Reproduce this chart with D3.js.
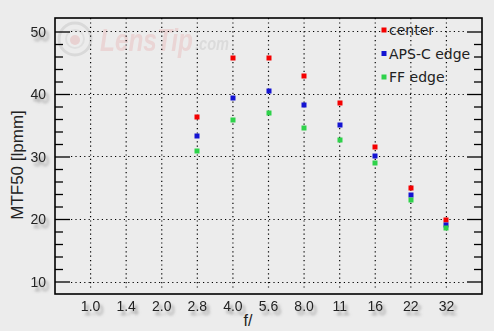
<!DOCTYPE html>
<html>
<head>
<meta charset="utf-8">
<script src="https://cdn.jsdelivr.net/npm/d3@7"></script>
<style>
  body { margin:0; background:#ececec; }
  svg { display:block; }
</style>
</head>
<body>
<svg id="chart" width="494" height="331"></svg>
<script>
// f-stops on the x axis
var apertures = ["1.0","1.4","2.0","2.8","4.0","5.6","8.0","11","16","22","32"];
var measured  = ["2.8","4.0","5.6","8.0","11","16","22","32"];
// MTF50 values
var center   = [36.4, 45.8, 45.8, 42.9, 38.6, 31.6, 25.0, 19.9];
var apscEdge = [33.3, 39.3, 40.4, 38.3, 35.0, 30.0, 23.8, 19.1];
var ffEdge   = [30.9, 35.8, 36.9, 34.6, 32.7, 28.9, 23.1, 18.6];
var yTicks = [10, 20, 30, 40, 50];
var series = [
  {name:"center", values:center, color:"#f40000"},
  {name:"APS-C edge", values:apscEdge, color:"#1414d2"},
  {name:"FF edge", values:ffEdge, color:"#2ed24a"}
];

var svg = d3.select("#chart");
var pLeft = 55, pRight = 482, pTop = 18, pBottom = 294;

var defs = svg.append("defs");
var f = defs.append("filter").attr("id","shadow").attr("x","-50%").attr("y","-50%").attr("width","200%").attr("height","200%");
f.append("feDropShadow").attr("dx",3).attr("dy",4).attr("stdDeviation",1.6)
  .attr("flood-color","#777").attr("flood-opacity",0.75);

var x = d3.scalePoint().domain(apertures).range([pLeft, pRight]).padding(1);
var y = d3.scaleLinear().domain([8, 52.16]).range([pBottom, pTop]);

// watermark
var wm = svg.append("g").attr("opacity",0.6);
wm.append("circle").attr("cx",75).attr("cy",39).attr("r",16)
  .attr("fill","none").attr("stroke","#cdcdcd").attr("stroke-width",3);
wm.append("circle").attr("cx",75).attr("cy",39).attr("r",9)
  .attr("fill","none").attr("stroke","#d8d8d8").attr("stroke-width",2);
wm.append("circle").attr("cx",75).attr("cy",40).attr("r",5).attr("fill","#e6c0c0");
wm.append("text").attr("x",100).attr("y",51).attr("font-family","Liberation Sans, Arial")
  .attr("font-size",32).attr("font-weight","bold").attr("font-style","italic")
  .attr("fill","#e9c6c6").attr("textLength",93).attr("lengthAdjust","spacingAndGlyphs").text("LensTip");
wm.append("text").attr("x",195).attr("y",50).attr("font-family","Liberation Sans, Arial")
  .attr("font-size",18).attr("font-weight","bold").attr("font-style","italic")
  .attr("fill","#d0d0d0").attr("textLength",34).attr("lengthAdjust","spacingAndGlyphs").text(".com");

// gridlines
svg.append("g").selectAll("line").data(apertures).enter().append("line")
  .attr("x1", function(d){ return x(d); }).attr("x2", function(d){ return x(d); })
  .attr("y1", pTop).attr("y2", pBottom - 4)
  .attr("stroke","#000").attr("stroke-width",1.2).attr("stroke-dasharray","1.2,3.2");
svg.append("g").selectAll("line").data(yTicks).enter().append("line")
  .attr("x1", pLeft + 16).attr("x2", pRight - 16)
  .attr("y1", function(d){ return Math.round(y(d)) + 0.5; }).attr("y2", function(d){ return Math.round(y(d)) + 0.5; })
  .attr("stroke","#000").attr("stroke-width",1.2).attr("stroke-dasharray","1.2,3.2");

// axes ticks (left and right, pointing inward)
var minor = d3.range(10, 52, 2);
var leftAx = svg.append("g").attr("transform","translate(" + pLeft + ",0)")
  .call(d3.axisRight(y).tickValues(minor).tickSize(8).tickFormat(""));
var rightAx = svg.append("g").attr("transform","translate(" + pRight + ",0)")
  .call(d3.axisLeft(y).tickValues(minor).tickSize(8).tickFormat(""));
[leftAx, rightAx].forEach(function(a){
  a.select(".domain").remove();
  a.selectAll(".tick line").attr("stroke","#000").attr("stroke-width",1.3)
    .attr("x2", function(d){ var s = (a === leftAx) ? 1 : -1; return s * (d % 10 === 0 ? 15 : 8); });
});

// frame
svg.append("rect").attr("x",pLeft).attr("y",pTop).attr("width",pRight-pLeft).attr("height",pBottom-pTop)
  .attr("fill","none").attr("stroke","#000").attr("stroke-width",1.6);

// tick labels
svg.append("g").selectAll("text").data(yTicks).enter().append("text")
  .attr("x", 46).attr("y", function(d){ return y(d) + 5; })
  .attr("text-anchor","end").attr("font-family","Liberation Sans, Arial").attr("font-size",14)
  .attr("fill","#222").attr("filter","url(#shadow)").text(function(d){ return d; });
svg.append("g").selectAll("text").data(apertures).enter().append("text")
  .attr("x", function(d){ return x(d); }).attr("y", 311)
  .attr("text-anchor","middle").attr("font-family","Liberation Sans, Arial").attr("font-size",14)
  .attr("fill","#222").attr("filter","url(#shadow)").text(function(d){ return d; });

svg.append("text").attr("x",248).attr("y",326).attr("text-anchor","middle")
  .attr("font-family","Liberation Sans, Arial").attr("font-size",16).attr("fill","#222").text("f/");
svg.append("text").attr("transform","translate(23,165) rotate(-90)").attr("text-anchor","middle")
  .attr("font-family","Liberation Sans, Arial").attr("font-size",17).attr("fill","#222").text("MTF50 [lpmm]");

// points
series.forEach(function(s){
  svg.append("g").selectAll("rect").data(s.values).enter().append("rect")
    .attr("x", function(d,i){ return Math.round(x(measured[i])) - 2.5; })
    .attr("y", function(d){ return Math.round(y(d)) - 2.5; })
    .attr("width",5).attr("height",5).attr("fill",s.color);
});

// legend
var lg = svg.append("g").selectAll("g").data(series).enter().append("g")
  .attr("transform", function(d,i){ return "translate(384," + (30 + i*23.5) + ")"; });
lg.append("rect").attr("x",-2.5).attr("y",-2.5).attr("width",5).attr("height",5)
  .attr("fill", function(d){ return d.color; });
lg.append("text").attr("x",5).attr("y",5).attr("font-family","DejaVu Sans").attr("font-size",14)
  .attr("fill","#222").text(function(d){ return d.name; });
</script>
</body>
</html>
